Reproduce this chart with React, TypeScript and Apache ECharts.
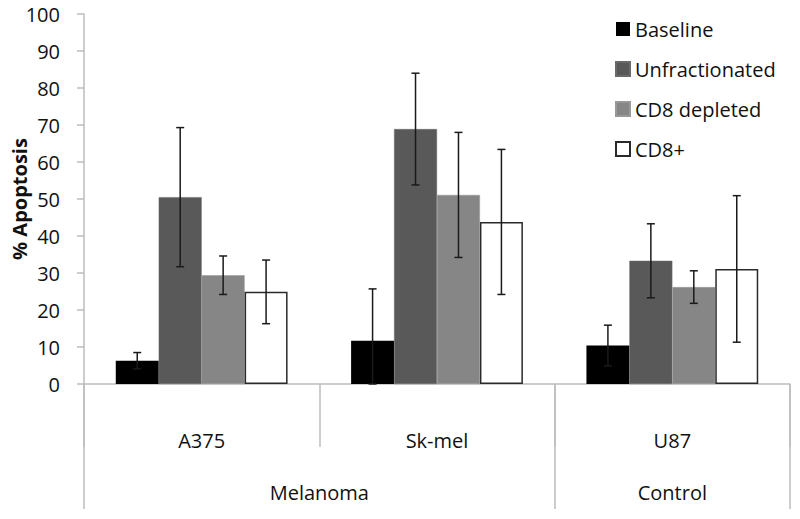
import React, { useEffect, useRef } from "react";
import * as echarts from "echarts";

const categories = ["A375", "Sk-mel", "U87"];
const groupLabels = ["Melanoma", "Control"];
const seriesNames = ["Baseline", "Unfractionated", "CD8 depleted", "CD8+"];
const baseline = [6.3, 11.7, 10.4];
const unfractionated = [50.5, 68.9, 33.3];
const cd8Depleted = [29.4, 51.1, 26.2];
const cd8Plus = [24.9, 43.8, 31.1];
const baselineErr = [2.2, 14.0, 5.5];
const unfractionatedErr = [18.8, 15.1, 10.0];
const cd8DepletedErr = [5.2, 16.9, 4.4];
const cd8PlusErr = [8.6, 19.6, 19.8];
const yTicks = [0, 10, 20, 30, 40, 50, 60, 70, 80, 90, 100];

const FONT = "'Open Sans', Lato, sans-serif";
const CAT_GAP = 0.27;

export default function App() {
  const ref = useRef<HTMLDivElement>(null);
  useEffect(() => {
    const chart = echarts.init(ref.current!, null, { renderer: "svg" });
    const values = [baseline, unfractionated, cd8Depleted, cd8Plus];
    const errs = [baselineErr, unfractionatedErr, cd8DepletedErr, cd8PlusErr];
    const styles = [
      { color: "#000000", borderColor: "#000000", borderWidth: 0 },
      { color: "#595959", borderColor: "#6a6a6a", borderWidth: 0.5 },
      { color: "#868686", borderColor: "#999999", borderWidth: 0.5 },
      { color: "#ffffff", borderColor: "#2a2a2a", borderWidth: 1.5 },
    ];
    const barSeries = seriesNames.map((name, i) => ({
      name,
      type: "bar",
      data: values[i],
      barGap: "0%",
      barCategoryGap: CAT_GAP * 100 + "%",
      itemStyle: styles[i],
      emphasis: { disabled: true },
    }));
    const errSeries = seriesNames.map((name, i) => ({
      name: name + " error",
      type: "custom",
      z: 10,
      data: categories.map((_, c) => [c, values[i][c], errs[i][c]]),
      encode: { x: 0, y: 1 },
      renderItem: (params: any, api: any) => {
        const cat = api.value(0);
        const mean = api.value(1);
        const err = api.value(2);
        const band = api.size([1, 0])[0];
        const bw = (band * (1 - CAT_GAP)) / 4;
        const cx = api.coord([cat, 0])[0] - (band * (1 - CAT_GAP)) / 2 + bw * (i + 0.5);
        const top = api.coord([cat, mean + err])[1];
        const bot = api.coord([cat, Math.max(0, mean - err)])[1];
        const half = 4;
        const st = { stroke: "#1a1a1a", lineWidth: 1.5 };
        return {
          type: "group",
          children: [
            { type: "line", shape: { x1: cx, y1: top, x2: cx, y2: bot }, style: st },
            { type: "line", shape: { x1: cx - half, y1: top, x2: cx + half, y2: top }, style: st },
            { type: "line", shape: { x1: cx - half, y1: bot, x2: cx + half, y2: bot }, style: st },
          ],
        };
      },
    }));
    const gray = "#bdbdbd";
    chart.setOption({
      animation: false,
      textStyle: { fontFamily: FONT },
      grid: { left: 84, right: 10, top: 14, bottom: 135, containLabel: false, outerBoundsMode: "none" },
      legend: {
        data: seriesNames,
        orient: "vertical",
        left: 615,
        top: 19,
        padding: 0,
        itemWidth: 14,
        itemHeight: 14,
        itemGap: 20,
        icon: "rect",
        selectedMode: false,
        textStyle: { fontFamily: FONT, fontSize: 20, color: "#111", lineHeight: 20 },
      },
      xAxis: [
        {
          type: "category",
          data: categories,
          position: "bottom",
          axisLine: { show: true, lineStyle: { color: gray, width: 1.5 } },
          axisTick: { show: true, interval: 0, length: 63, alignWithLabel: false, lineStyle: { color: gray, width: 1.5 } },
          axisLabel: { margin: 46, fontSize: 20, color: "#111", fontFamily: FONT, interval: 0 },
          splitLine: { show: false },
        },
        {
          type: "value",
          min: 0,
          max: 3,
          position: "bottom",
          offset: 0,
          axisLine: { show: false },
          splitLine: { show: false },
          axisTick: { show: true, customValues: [0, 2, 3], length: 125, lineStyle: { color: gray, width: 1.5 } },
          axisLabel: {
            customValues: [1, 2.5],
            margin: 98,
            fontSize: 20,
            color: "#111",
            fontFamily: FONT,
            formatter: (v: number) => (v < 2 ? groupLabels[0] : groupLabels[1]),
          },
        },
      ],
      yAxis: {
        type: "value",
        min: yTicks[0],
        max: yTicks[yTicks.length - 1],
        interval: 10,
        name: "% Apoptosis",
        nameLocation: "middle",
        nameGap: 55,
        nameMoveOverlap: false,
        nameTextStyle: { fontSize: 20, fontWeight: "bold", color: "#111", fontFamily: FONT },
        axisLine: { show: true, lineStyle: { color: gray, width: 1.5 } },
        axisTick: { show: true, length: 7, lineStyle: { color: gray, width: 1.5 } },
        axisLabel: { fontSize: 20, color: "#111", margin: 24, fontFamily: FONT },
        splitLine: { show: false },
      },
      series: [...barSeries, ...errSeries],
    });
    return () => chart.dispose();
  }, []);
  return <div ref={ref} style={{ width: 800, height: 519, margin: -8 }} />;
}
